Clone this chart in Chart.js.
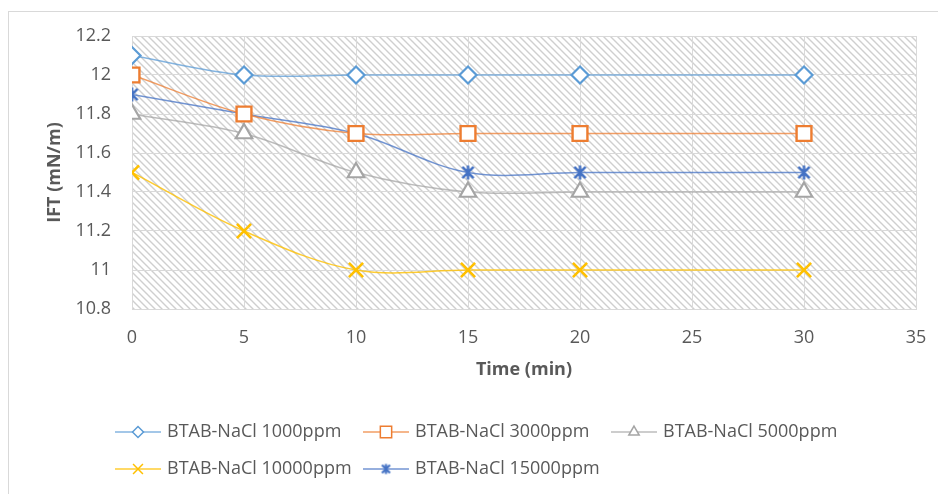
<!DOCTYPE html>
<html>
<head>
<meta charset="utf-8">
<script src="https://cdn.jsdelivr.net/npm/chart.js@4.4.1/dist/chart.umd.min.js"></script>
<style>
    html, body { margin: 0; padding: 0; background: #ffffff; overflow: hidden; }
    #frame {
        position: absolute; left: 8px; top: 11px; width: 940px; height: 500px;
        border: 1px solid #d9d9d9; box-sizing: border-box;
    }
    #myChart { position: absolute; left: 0; top: 0; }
</style>
</head>
<body>
<div id="frame"></div>
<canvas id="myChart" width="938" height="494"></canvas>

<script>
// time in minutes
const times = [0, 5, 10, 15, 20, 30];

// IFT values (mN/m)
const ift1000 = [12.1, 12.0, 12.0, 12.0, 12.0, 12.0];
const ift3000 = [12.0, 11.8, 11.7, 11.7, 11.7, 11.7];
const ift5000 = [11.8, 11.7, 11.5, 11.4, 11.4, 11.4];
const ift10000 = [11.5, 11.2, 11.0, 11.0, 11.0, 11.0];
const ift15000 = [11.9, 11.8, 11.7, 11.5, 11.5, 11.5];

const seriesNames = ['BTAB-NaCl 1000ppm', 'BTAB-NaCl 3000ppm', 'BTAB-NaCl 5000ppm',
                     'BTAB-NaCl 10000ppm', 'BTAB-NaCl 15000ppm'];

const xTicks = [0, 5, 10, 15, 20, 25, 30, 35];
const yMin = 10.8, yMax = 12.2, yStep = 0.2;

const FONT = '"Open Sans", "DejaVu Sans", sans-serif';
const TEXT = '#595959';

// excel-like star marker (X with vertical bar)
function makeStar(size, color, lw) {
    const c = document.createElement('canvas');
    c.width = size; c.height = size;
    const g = c.getContext('2d');
    g.strokeStyle = color; g.lineWidth = lw; g.lineCap = 'butt';
    const m = size / 2, r = size / 2 - 1.5;
    g.beginPath();
    g.moveTo(m - r * 0.8, m - r * 0.8); g.lineTo(m + r * 0.8, m + r * 0.8);
    g.moveTo(m + r * 0.8, m - r * 0.8); g.lineTo(m - r * 0.8, m + r * 0.8);
    g.moveTo(m, m - r); g.lineTo(m, m + r);
    g.stroke();
    return c;
}
const starBig = makeStar(17, '#4472c4', 2.5);
const starSmall = makeStar(13, '#4472c4', 2.2);

function pts(arr) {
    return arr.map((v, i) => ({x: times[i], y: v}));
}

const styles = [
    {line: 'rgba(91,155,213,0.75)', mark: '#5b9bd5', shape: 'rectRot', r: 8.5, lr: 5.5, bw: 2.2},
    {line: 'rgba(237,125,49,0.75)', mark: '#ed7d31', shape: 'rect', r: 10.5, lr: 8, bw: 2.4},
    {line: 'rgba(165,165,165,0.75)', mark: '#a5a5a5', shape: 'triangle', r: 9.5, lr: 6, bw: 2.2},
    {line: 'rgba(255,192,0,0.8)', mark: '#ffc000', shape: 'crossRot', r: 10, lr: 7, bw: 2.6},
    {line: 'rgba(68,114,196,0.75)', mark: '#4472c4', shape: starBig, legendShape: starSmall, r: 8, lr: 6, bw: 2.5}
];
const allData = [ift1000, ift3000, ift5000, ift10000, ift15000];

const datasets = allData.map((d, i) => ({
    label: seriesNames[i],
    data: pts(d),
    borderColor: styles[i].line,
    borderWidth: 1.5,
    tension: 0.35,
    pointStyle: styles[i].shape,
    pointRadius: styles[i].r,
    pointBorderColor: styles[i].mark,
    pointBackgroundColor: '#ffffff',
    pointBorderWidth: styles[i].bw,
    fill: false
}));

// hatched plot-area background
const hatchPlugin = {
    id: 'hatch',
    beforeDraw(chart) {
        const {ctx, chartArea: a} = chart;
        const t = document.createElement('canvas');
        t.width = 7; t.height = 7;
        const g = t.getContext('2d');
        g.strokeStyle = '#cfcfcf'; g.lineWidth = 1.4;
        g.beginPath();
        g.moveTo(-1, -1); g.lineTo(8, 8);
        g.moveTo(-1, 6); g.lineTo(1, 8);
        g.moveTo(6, -1); g.lineTo(8, 1);
        g.stroke();
        ctx.save();
        ctx.fillStyle = '#ffffff';
        ctx.fillRect(a.left, a.top, a.width, a.height);
        ctx.fillStyle = ctx.createPattern(t, 'repeat');
        ctx.fillRect(a.left, a.top, a.width, a.height);
        ctx.restore();
    }
};

// excel-like legend in a grid
const gridLegend = {
    id: 'gridLegend',
    afterDraw(chart) {
        const ctx = chart.ctx;
        ctx.save();
        chart.data.datasets.forEach((ds, i) => {
            const col = i % 3, row = Math.floor(i / 3);
            const x0 = 115 + col * 248;
            const y = 432 + row * 37;
            ctx.strokeStyle = ds.borderColor;
            ctx.lineWidth = 1.5;
            ctx.beginPath();
            ctx.moveTo(x0, y); ctx.lineTo(x0 + 46, y);
            ctx.stroke();
            const st = styles[i];
            ctx.strokeStyle = st.mark;
            ctx.fillStyle = '#ffffff';
            Chart.helpers.drawPoint(ctx, {
                pointStyle: st.legendShape || st.shape,
                radius: st.lr,
                borderWidth: st.bw,
                rotation: 0
            }, x0 + 23, y);
            ctx.fillStyle = TEXT;
            ctx.font = '18px ' + FONT;
            ctx.textBaseline = 'middle';
            ctx.textAlign = 'left';
            ctx.fillText(ds.label, x0 + 52, y);
        });
        ctx.restore();
    }
};

const ctx = document.getElementById('myChart').getContext('2d');
const chart = new Chart(ctx, {
    type: 'line',
    data: {datasets: datasets},
    options: {
        responsive: false,
        animation: false,
        layout: {padding: {left: 0, right: 22, top: 36, bottom: 105}},
        plugins: {
            legend: {display: false},
            tooltip: {enabled: false}
        },
        scales: {
            x: {
                type: 'linear',
                min: 0, max: 35,
                afterBuildTicks: s => { s.ticks = xTicks.map(v => ({value: v})); },
                afterFit: s => { s.height = 80; s.paddingLeft = 0; s.paddingRight = 0; },
                grid: {color: '#d9d9d9', lineWidth: 1, drawTicks: false},
                border: {color: '#d9d9d9'},
                ticks: {color: TEXT, font: {family: FONT, size: 18}, padding: 18, maxRotation: 0},
                title: {display: true, text: 'Time (min)', color: TEXT,
                        font: {family: FONT, size: 18, weight: 'bold'}, padding: {top: 0, bottom: 8}}
            },
            y: {
                min: yMin, max: yMax,
                ticks: {stepSize: yStep, color: TEXT, font: {family: FONT, size: 18}, padding: 21,
                        callback: v => String(Number(v.toFixed(1)))},
                afterFit: s => { s.width = 132; s.paddingTop = 0; s.paddingBottom = 0; },
                grid: {color: '#d9d9d9', lineWidth: 1, drawTicks: false},
                border: {color: '#d9d9d9'},
                title: {display: true, text: 'IFT (mN/m)', color: TEXT,
                        font: {family: FONT, size: 18, weight: 'bold'}, padding: {top: 44, bottom: 0}}
            }
        }
    },
    plugins: [hatchPlugin, gridLegend]
});
</script>
</body>
</html>
